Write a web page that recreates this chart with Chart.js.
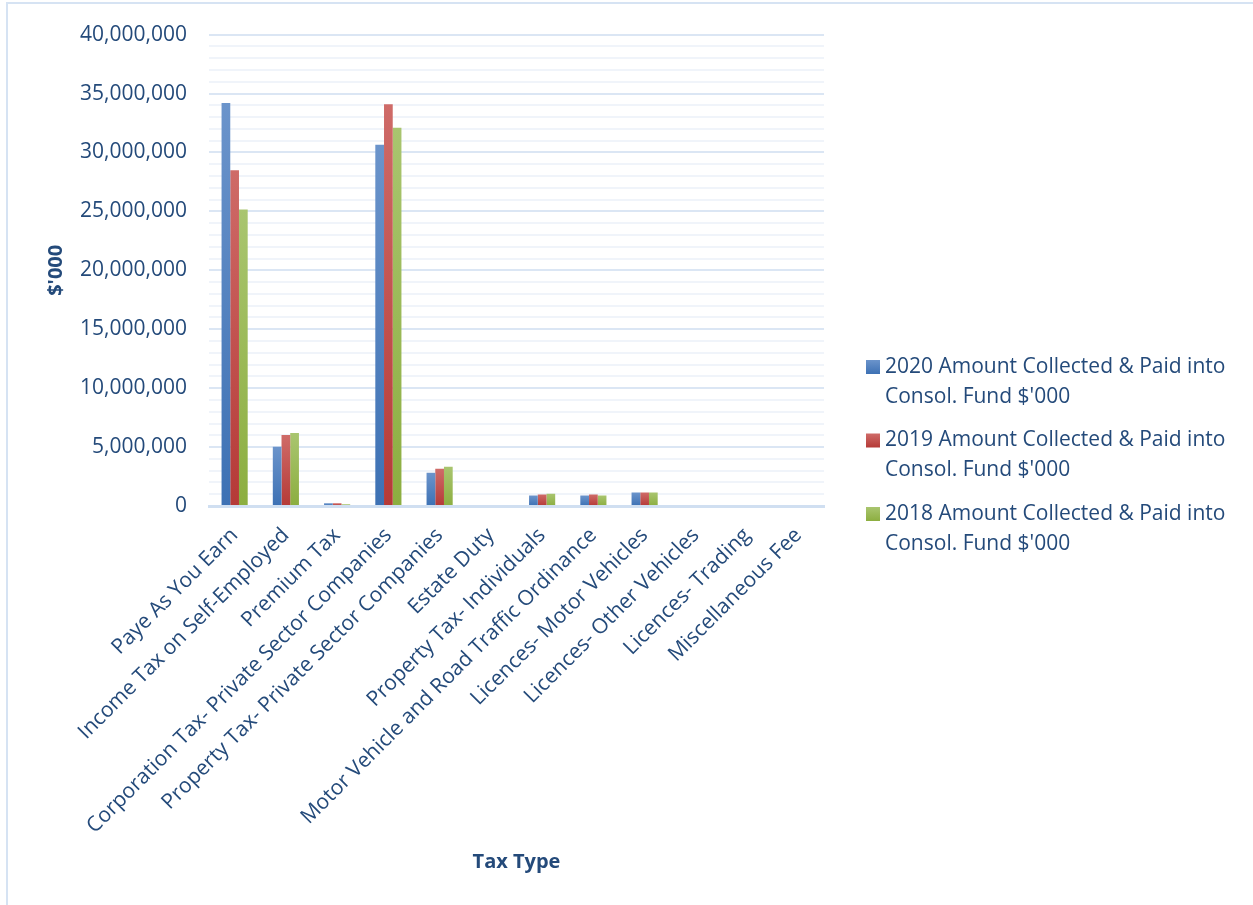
<!DOCTYPE html>
<html><head><meta charset="utf-8">
<script src="https://cdn.jsdelivr.net/npm/chart.js@4.4.1/dist/chart.umd.min.js"></script>
<style>
html,body{margin:0;padding:0;background:#fff;}
#wrap{position:relative;width:1253px;height:905px;overflow:hidden;}
#frame{position:absolute;left:6px;top:2px;width:1300px;height:950px;border-left:2px solid #d6e3f3;border-top:2px solid #d6e3f3;}
canvas{position:absolute;left:0;top:0;}
</style></head><body>
<div id="wrap"><div id="frame"></div><canvas id="c" width="1253" height="905"></canvas></div>
<script>
const categories = ["Paye As You Earn","Income Tax on Self-Employed","Premium Tax","Corporation Tax- Private Sector Companies","Property Tax- Private Sector Companies","Estate Duty","Property Tax- Individuals","Motor Vehicle and Road Traffic Ordinance","Licences- Motor Vehicles","Licences- Other Vehicles","Licences- Trading","Miscellaneous Fee"];
const values2020 = [34200000, 5020000, 230000, 30650000, 2830000, 0, 890000, 890000, 1140000, 0, 0, 0];
const values2019 = [28500000, 6030000, 230000, 34100000, 3160000, 0, 970000, 970000, 1140000, 0, 0, 0];
const values2018 = [25150000, 6200000, 150000, 32100000, 3330000, 0, 1050000, 890000, 1140000, 0, 0, 0];
const seriesLabels = ["2020 Amount Collected & Paid into Consol. Fund $'000","2019 Amount Collected & Paid into Consol. Fund $'000","2018 Amount Collected & Paid into Consol. Fund $'000"];
const yTickValues = [0, 5000000, 10000000, 15000000, 20000000, 25000000, 30000000, 35000000, 40000000];

const TEXT = '#244a7a';
const FONT = "'Open Sans', sans-serif";
const palette = [
  {light:'#6b94cb', dark:'#3d71b4'},
  {light:'#cf6b68', dark:'#b53a37'},
  {light:'#a9c56f', dark:'#8cae40'}
];

function barFill(idx){
  return (c) => {
    const p = palette[idx];
    const chart = c.chart;
    const y = chart.scales && chart.scales.y;
    if (c.type !== 'data' || !y || !c.raw) return p.dark;
    const t = y.getPixelForValue(c.raw), b = y.getPixelForValue(0);
    if (!isFinite(t) || !isFinite(b) || b - t < 1) return p.dark;
    const g = chart.ctx.createLinearGradient(0, t, 0, b);
    g.addColorStop(0, p.light); g.addColorStop(1, p.dark);
    return g;
  };
}

const legendPlugin = {
  id: 'sideLegend',
  afterDraw(chart){
    const ctx = chart.ctx;
    ctx.save();
    ctx.font = "21px " + FONT;
    ctx.textBaseline = 'middle';
    ctx.textAlign = 'left';
    const x0 = 866, textX = 885, maxW = 350;
    let y = 367;
    chart.data.datasets.forEach((ds, i) => {
      const words = ds.label.split(' ');
      const lines = []; let cur = '';
      words.forEach(w => {
        const t = cur ? cur + ' ' + w : w;
        if (ctx.measureText(t).width > maxW && cur) { lines.push(cur); cur = w; } else cur = t;
      });
      if (cur) lines.push(cur);
      const p = palette[i];
      const g = ctx.createLinearGradient(0, y - 7, 0, y + 7);
      g.addColorStop(0, p.light); g.addColorStop(1, p.dark);
      ctx.fillStyle = g;
      ctx.fillRect(x0, y - 7, 14, 14);
      ctx.fillStyle = TEXT;
      lines.forEach((ln, k) => ctx.fillText(ln, textX, y + k * 30));
      y += 73.5;
    });
    ctx.restore();
  }
};

new Chart(document.getElementById('c'), {
  type: 'bar',
  data: {
    labels: categories,
    datasets: [
      {label: seriesLabels[0], data: values2020, backgroundColor: barFill(0)},
      {label: seriesLabels[1], data: values2019, backgroundColor: barFill(1)},
      {label: seriesLabels[2], data: values2018, backgroundColor: barFill(2)}
    ]
  },
  options: {
    responsive: false,
    animation: false,
    events: [],
    layout: {padding: {left: 40, right: 429, top: 30, bottom: 27}},
    datasets: {bar: {categoryPercentage: 0.51, barPercentage: 1.0, borderWidth: 0}},
    plugins: {legend: {display: false}, tooltip: {enabled: false}},
    scales: {
      x: {
        grid: {display: false, drawTicks: false},
        border: {display: true, color: '#d0dff1', width: 3},
        ticks: {color: TEXT, font: {family: FONT, size: 21}, minRotation: 45, maxRotation: 45, autoSkip: false, padding: 17},
        title: {display: true, text: 'Tax Type', color: TEXT, font: {family: FONT, size: 20, weight: 'bold'}, padding: {top: 4, bottom: 4}},
        afterFit(s){ s.height = 372; }
      },
      y: {
        min: 0, max: 40000000,
        grid: {
          drawTicks: false,
          lineWidth: 2,
          color: (c) => (c.tick && yTickValues.includes(c.tick.value)) ? '#dbe6f4' : '#f0f4fa'
        },
        border: {display: false},
        ticks: {
          stepSize: 1000000, autoSkip: false, color: TEXT, padding: 22,
          font: {family: FONT, size: 21},
          callback: (v) => yTickValues.includes(v) ? v.toLocaleString('en-US') : ''
        },
        title: {display: true, text: "$'000", color: TEXT, font: {family: FONT, size: 20, weight: 'bold'}, padding: {top: 4, bottom: 4}},
        afterFit(s){ s.width = 169; }
      }
    }
  },
  plugins: [legendPlugin]
});
</script>
</body></html>
